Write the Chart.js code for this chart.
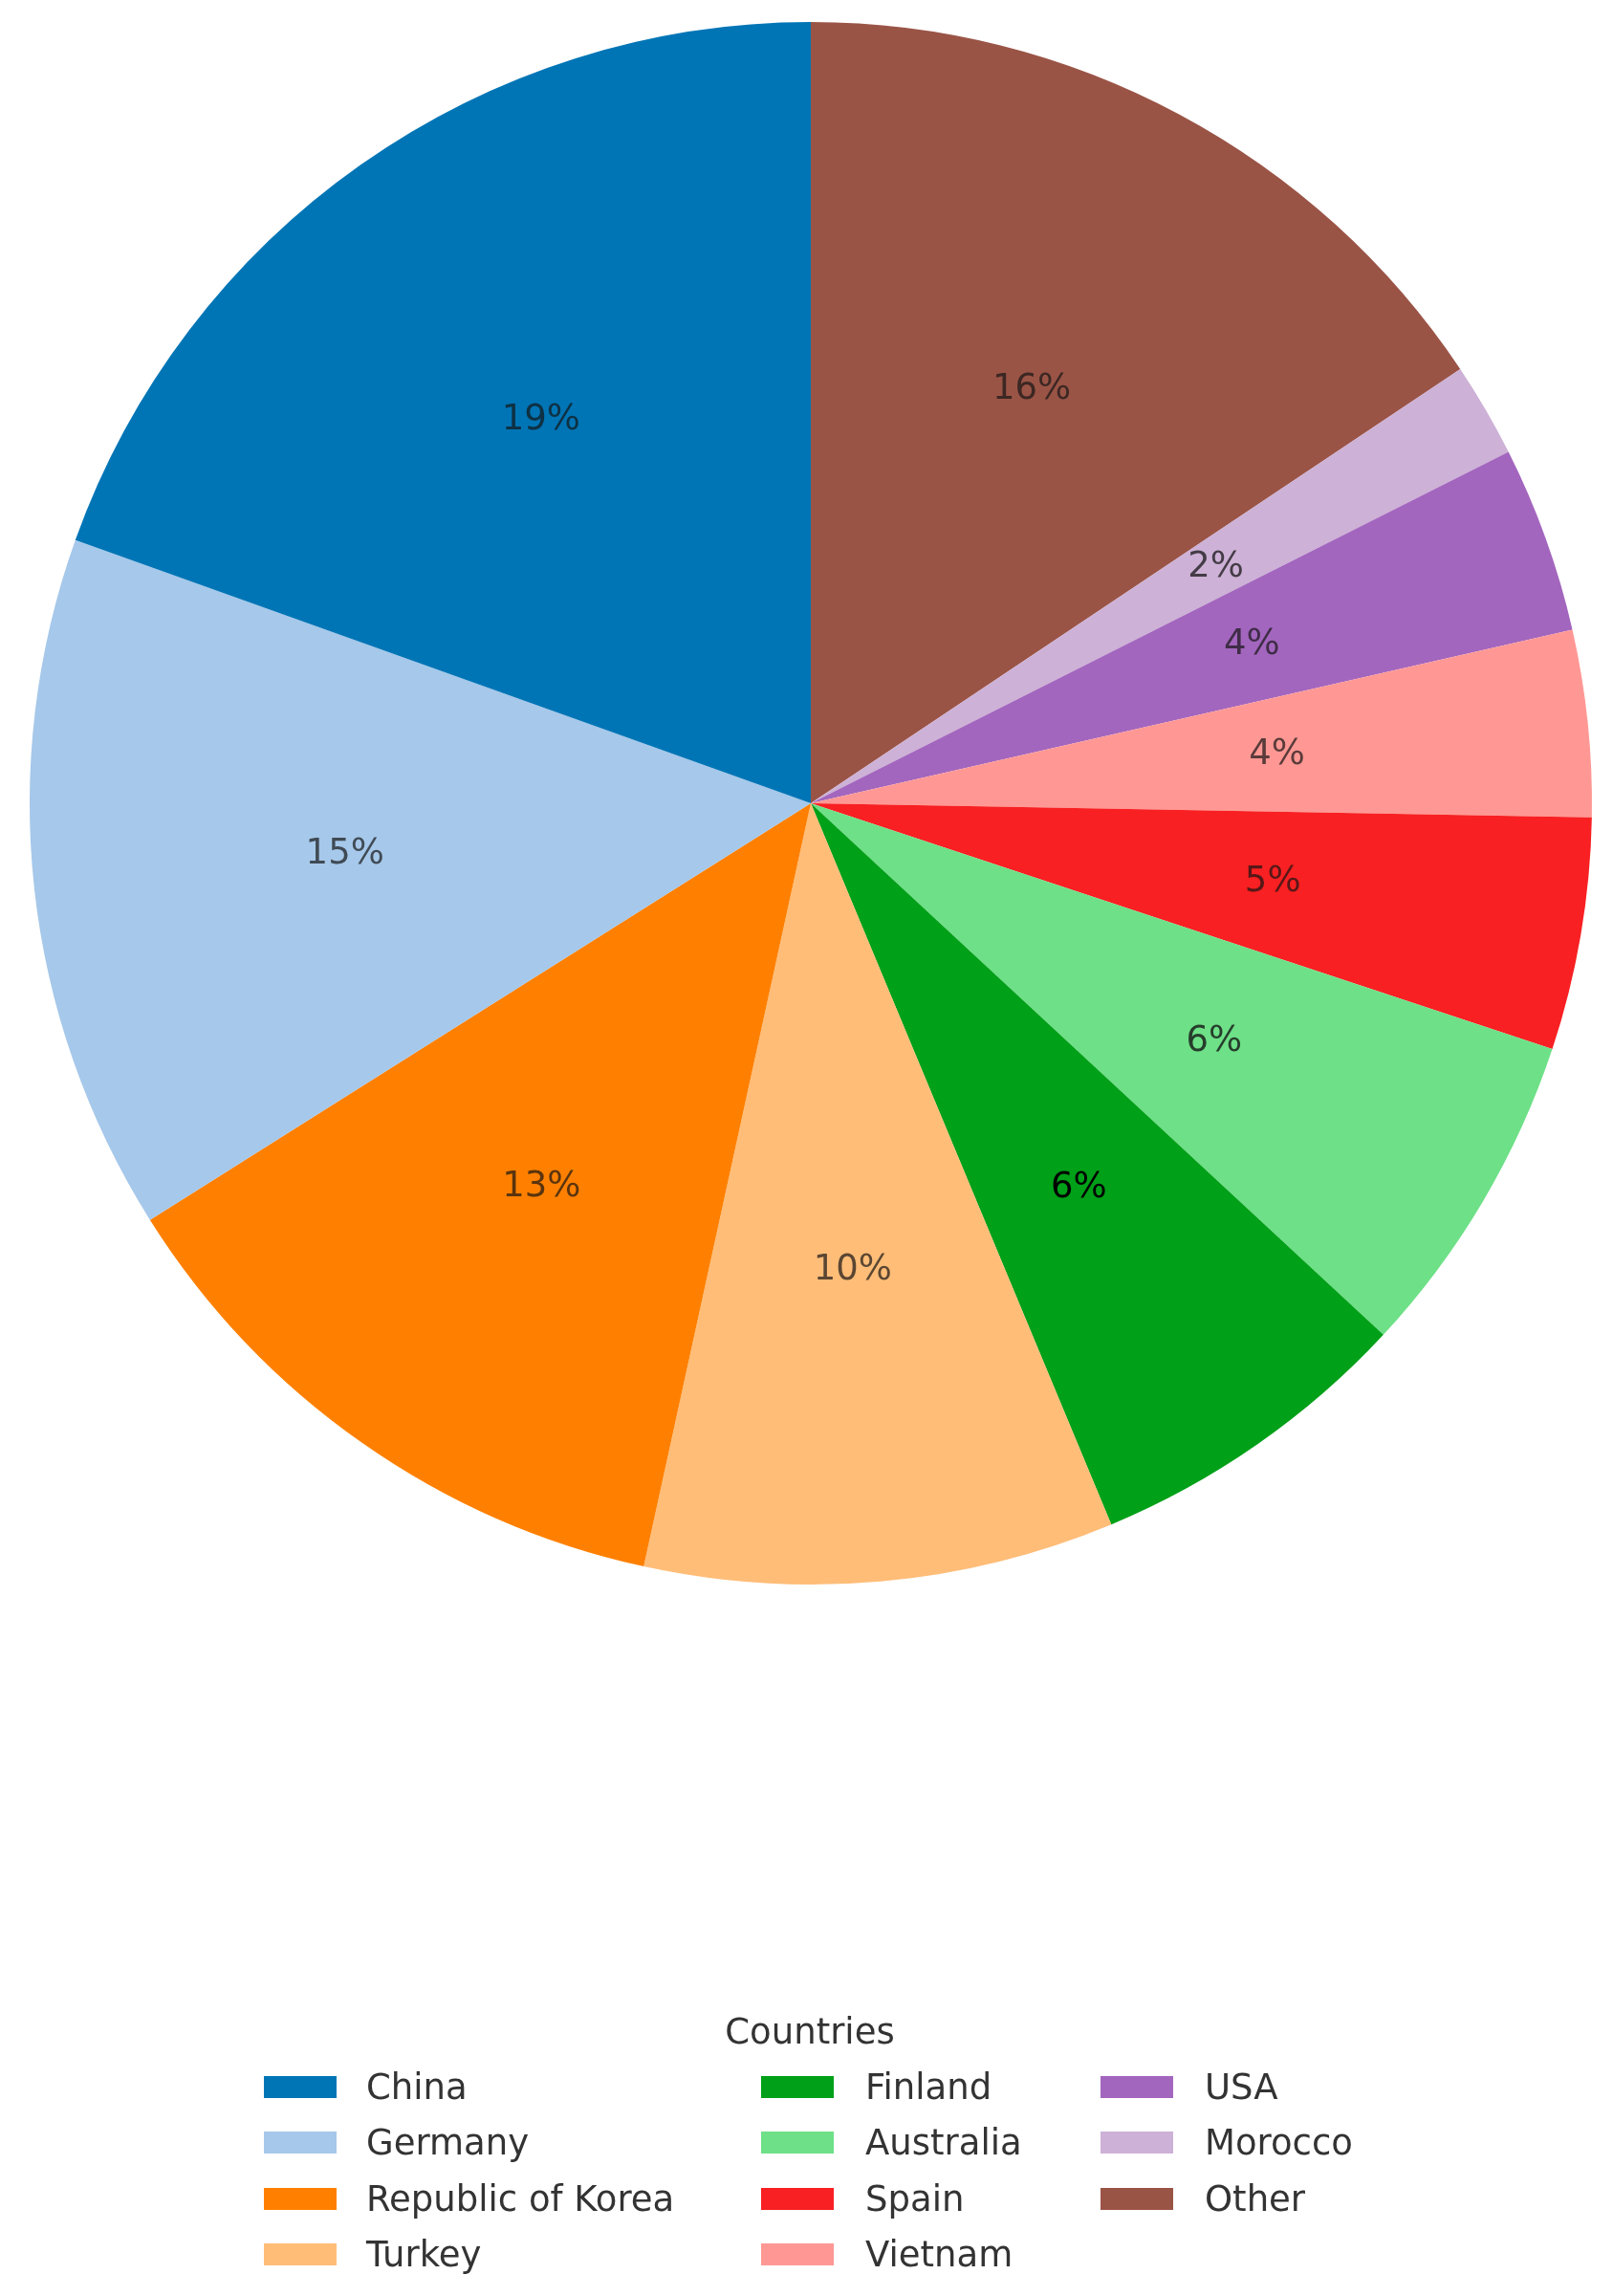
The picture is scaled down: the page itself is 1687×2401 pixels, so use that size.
<!DOCTYPE html>
<html lang="en">
<head>
  <meta charset="UTF-8">
  <title>Countries</title>
  <script src="https://cdn.jsdelivr.net/npm/chart.js"></script>
  <style>
    body {
      margin: 0;
      background: white;
      font-family: 'DejaVu Sans', sans-serif;
    }
    #page {
      position: relative;
      width: 1687px;
      height: 2401px;
    }
    #chartBox {
      position: absolute;
      left: 0;
      top: 0;
      width: 1687px;
      height: 1680px;
    }
    #legend {
      position: absolute;
      left: 0;
      top: 0;
      width: 1687px;
      height: 2401px;
      pointer-events: none;
      color: #333;
      font-size: 37px;
    }
    .legend-title {
      position: absolute;
      width: 400px;
      left: 647px;
      text-align: center;
      line-height: 44px;
    }
    .swatch {
      position: absolute;
      width: 76px;
      height: 23px;
    }
    .item-text {
      position: absolute;
      line-height: 44px;
      white-space: nowrap;
    }
  </style>
</head>
<body>

<div id="page">
  <div id="chartBox"><canvas id="pieChart"></canvas></div>
  <div id="legend"></div>
</div>

<script>
// slices in the order they appear in the legend (counter-clockwise from 12 o'clock)
const countries = ['China', 'Germany', 'Republic of Korea', 'Turkey', 'Finland',
  'Australia', 'Spain', 'Vietnam', 'USA', 'Morocco', 'Other'];
// share of each slice (%)
const shares = [19.5, 14.4, 12.6, 9.7, 6.8, 6.8, 4.8, 3.85, 3.85, 1.95, 15.6];
// percentage labels as printed on the slices
const pctLabels = ['19%', '15%', '13%', '10%', '6%', '6%', '5%', '4%', '4%', '2%', '16%'];
const colors = ['#0075b6', '#a6c8ea', '#ff8000', '#ffbd78', '#00a018',
  '#6ee087', '#f82022', '#ff9894', '#a366be', '#cdb1d6', '#9a5446'];
const labelColors = ['rgba(20,20,20,0.7)', 'rgba(20,20,20,0.7)', 'rgba(20,20,20,0.7)',
  'rgba(20,20,20,0.7)', '#000', 'rgba(20,20,20,0.8)', 'rgba(20,20,20,0.7)',
  'rgba(20,20,20,0.7)', 'rgba(20,20,20,0.7)', 'rgba(20,20,20,0.75)', 'rgba(20,20,20,0.7)'];

// Chart.js runs clockwise, the original runs counter-clockwise -> reverse
const rev = arr => arr.slice().reverse();

// draw the percentages at 0.6 of the radius, like matplotlib's autopct
const pctPlugin = {
  id: 'pctLabels',
  afterDatasetsDraw(chart) {
    const ctx = chart.ctx;
    const meta = chart.getDatasetMeta(0);
    const texts = rev(pctLabels);
    const tcolors = rev(labelColors);
    ctx.save();
    ctx.font = '37px "DejaVu Sans", sans-serif';
    ctx.textAlign = 'center';
    ctx.textBaseline = 'middle';
    meta.data.forEach((arc, i) => {
      const p = arc.getProps(['x', 'y', 'startAngle', 'endAngle', 'outerRadius'], true);
      const mid = (p.startAngle + p.endAngle) / 2;
      const r = p.outerRadius * 0.6;
      ctx.fillStyle = tcolors[i];
      ctx.fillText(texts[i], p.x + Math.cos(mid) * r, p.y + Math.sin(mid) * r);
    });
    ctx.restore();
  }
};

new Chart(document.getElementById('pieChart'), {
  type: 'pie',
  data: {
    labels: rev(countries),
    datasets: [{
      data: rev(shares),
      backgroundColor: rev(colors),
      borderWidth: 0
    }]
  },
  options: {
    responsive: true,
    maintainAspectRatio: false,
    animation: false,
    layout: {
      padding: { left: 31, right: 22, top: 23, bottom: 23 }
    },
    plugins: {
      legend: { display: false },
      tooltip: { enabled: false }
    }
  },
  plugins: [pctPlugin]
});

// legend, filled column by column like matplotlib ncol=3
const legend = document.getElementById('legend');
const title = document.createElement('div');
title.className = 'legend-title';
title.style.top = (2125 - 22) + 'px';
title.textContent = 'Countries';
legend.appendChild(title);

const swatchX = [276, 796, 1151];
const textX = [383, 905, 1260];
const rowY = [2183, 2241, 2300, 2358];
countries.forEach((name, i) => {
  const col = Math.floor(i / 4);
  const row = i % 4;
  const sw = document.createElement('div');
  sw.className = 'swatch';
  sw.style.left = swatchX[col] + 'px';
  sw.style.top = (rowY[row] - 12) + 'px';
  sw.style.background = colors[i];
  legend.appendChild(sw);
  const t = document.createElement('div');
  t.className = 'item-text';
  t.style.left = textX[col] + 'px';
  t.style.top = (rowY[row] - 22) + 'px';
  t.textContent = name;
  legend.appendChild(t);
});
</script>

</body>
</html>
